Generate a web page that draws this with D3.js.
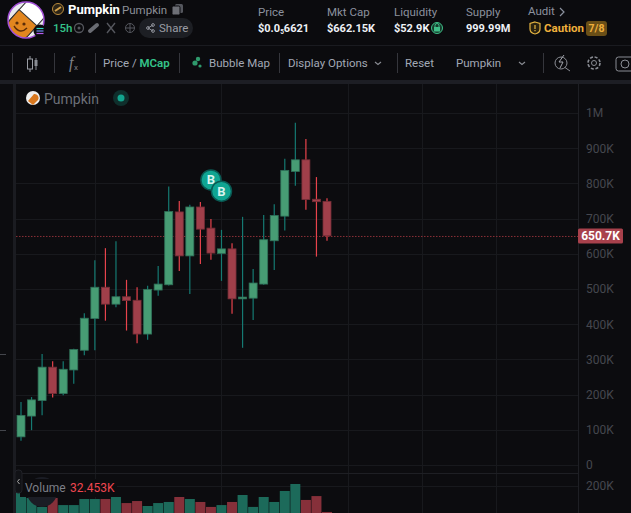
<!DOCTYPE html>
<html>
<head>
<meta charset="utf-8">
<title>Pumpkin</title>
<script src="https://cdn.jsdelivr.net/npm/d3@7/dist/d3.min.js"></script>
<style>
  html, body { margin: 0; padding: 0; background: #0c0c0f; overflow: hidden; }
  svg { display: block; font-family: Roboto, sans-serif; }
</style>
</head>
<body>
<svg id="chart" width="631" height="513"></svg>
<script>
// values in K
const opens  = [80,139,183,278,203,270,326,416,505,457,478,468,372,497,512,719,594,733,673,601,614,472,474,514,637,707,834,867,755,749];
const closes = [141,185,278,203,272,328,417,505,457,478,467,372,499,514,720,594,733,670,602,614,472,477,517,640,709,837,867,754,748,651];
const highs  = [179,193,315,295,295,330,431,582,616,636,526,505,509,565,791,750,739,747,699,668,630,705,557,710,741,870,972,926,818,758];
const lows   = [69,99,141,192,198,231,312,326,410,448,382,346,356,481,510,551,486,571,583,523,430,333,412,512,554,666,793,725,592,637];
const volumes = [155,123,65,123,77,77,116,116,116,129,90,103,71,90,97,129,116,97,65,77,97,142,65,129,97,168,213,110,135,32.453];

const priceTicks = [0,100,200,300,400,500,600,700,800,900,1000];
const volumeTicks = [200];
const timeGrid = [7,19,31,38,45]; // candle index of the vertical grid lines
const lastPrice = 650.7;
const buyMarks = [{ i: 18, v: 810 }, { i: 19, v: 778 }];

const toolbarLabels = [
    { t: 'Bubble Map', x: 209 }, { t: 'Display Options', x: 288 },
    { t: 'Reset', x: 405 }, { t: 'Pumpkin', x: 456 }
];
const stats = [
    { label: 'Mkt Cap', value: '$662.15K', x: 327 },
    { label: 'Liquidity', value: '$52.9K', x: 394 },
    { label: 'Supply', value: '999.99M', x: 466 }
];

const svg = d3.select('#chart');
const W = 631, H = 513, axisX = 578, left = 16;

const x = d3.scaleLinear().domain([0, 29]).range([21, 327]);
const y = d3.scaleLinear().domain([0, 1000]).range([465, 113]);
const yVol = d3.scaleLinear().domain([0, 200]).range([517, 486]);
const fmt = d => d === 0 ? '0' : d >= 1000 ? (d / 1000) + 'M' : d + 'K';

const up = '#479c74', upEdge = '#2f7059', upWick = '#157a72';
const down = '#a03f4a', downEdge = '#742e37', downWick = '#e8434c';

svg.append('rect').attr('width', W).attr('height', H).attr('fill', '#0c0c0f');

// ---- grid
const grid = svg.append('g');
grid.selectAll('.h').data(priceTicks).join('line')
    .attr('x1', left).attr('x2', axisX)
    .attr('y1', d => Math.round(y(d)) + 0.5).attr('y2', d => Math.round(y(d)) + 0.5)
    .attr('stroke', '#18191d');
grid.selectAll('.hv').data(volumeTicks).join('line')
    .attr('x1', left).attr('x2', axisX)
    .attr('y1', d => Math.round(yVol(d)) + 0.5).attr('y2', d => Math.round(yVol(d)) + 0.5)
    .attr('stroke', '#18191d');
grid.selectAll('.v').data(timeGrid).join('line')
    .attr('x1', d => Math.round(x(d)) + 0.5).attr('x2', d => Math.round(x(d)) + 0.5)
    .attr('y1', 84).attr('y2', H)
    .attr('stroke', '#18191d');

// pane frame
svg.append('rect').attr('x', 13).attr('y', 84).attr('width', 3).attr('height', H - 84).attr('fill', '#1b1c21');
svg.append('line').attr('x1', left).attr('x2', axisX).attr('y1', 473.5).attr('y2', 473.5).attr('stroke', '#1e1f24');
svg.append('line').attr('x1', axisX + 0.5).attr('x2', axisX + 0.5).attr('y1', 84).attr('y2', H).attr('stroke', '#1e1f24');
[354, 430].forEach(v => svg.append('line').attr('x1', 0).attr('x2', 6).attr('y1', v + 0.5).attr('y2', v + 0.5).attr('stroke', '#44464c'));

// ---- volume bars
svg.append('g').selectAll('rect').data(volumes).join('rect')
    .attr('x', (d, i) => x(i) - 5)
    .attr('width', 10)
    .attr('y', d => yVol(d))
    .attr('height', d => yVol(0) - yVol(d))
    .attr('fill', (d, i) => closes[i] >= opens[i] ? '#1c6a5a' : '#86303a');

// ---- last price line
svg.append('line')
    .attr('x1', left).attr('x2', axisX)
    .attr('y1', y(lastPrice) + 0.5).attr('y2', y(lastPrice) + 0.5)
    .attr('stroke', '#8a3038').attr('stroke-dasharray', '1.5 1.5');

// ---- candles
const candles = svg.append('g').selectAll('g').data(opens).join('g');
candles.append('line')
    .attr('x1', (d, i) => x(i)).attr('x2', (d, i) => x(i))
    .attr('y1', (d, i) => y(highs[i])).attr('y2', (d, i) => y(lows[i]))
    .attr('stroke', (d, i) => closes[i] >= opens[i] ? upWick : downWick)
    .attr('stroke-width', 1.2);
candles.append('rect')
    .attr('x', (d, i) => x(i) - 4)
    .attr('width', 8)
    .attr('y', (d, i) => y(Math.max(opens[i], closes[i])))
    .attr('height', (d, i) => Math.abs(y(opens[i]) - y(closes[i])))
    .attr('fill', (d, i) => closes[i] >= opens[i] ? up : down)
    .attr('stroke', (d, i) => closes[i] >= opens[i] ? upEdge : downEdge)
    .attr('stroke-width', 0.8);

// ---- buy marks
const marks = svg.append('g').selectAll('g').data(buyMarks).join('g')
    .attr('transform', d => `translate(${x(d.i)},${y(d.v)})`);
marks.append('circle').attr('r', 10).attr('fill', '#10a592').attr('stroke', '#0a5a54').attr('stroke-width', 1.5);
marks.append('text').text('B').attr('text-anchor', 'middle').attr('dy', 4.5)
    .attr('fill', '#d8f3ee').attr('font-size', 13).attr('font-weight', 700);

// ---- axes
const axisP = svg.append('g').attr('transform', `translate(${axisX},0)`)
    .call(d3.axisRight(y).tickValues(priceTicks).tickFormat(fmt).tickSize(0).tickPadding(8));
const axisV = svg.append('g').attr('transform', `translate(${axisX},0)`)
    .call(d3.axisRight(yVol).tickValues(volumeTicks).tickFormat(fmt).tickSize(0).tickPadding(8));
[axisP, axisV].forEach(a => {
    a.select('.domain').remove();
    a.selectAll('text').attr('fill', '#45474e').attr('font-size', 12).attr('font-family', 'Roboto, sans-serif');
});

svg.append('rect').attr('x', axisX).attr('y', y(lastPrice) - 7.5).attr('width', 45).attr('height', 15).attr('rx', 1.5).attr('fill', '#a8414c');
svg.append('text').text(fmt(lastPrice)).attr('x', axisX + 22.5).attr('y', y(lastPrice) + 4.5)
    .attr('text-anchor', 'middle').attr('fill', '#fff').attr('font-size', 12).attr('font-weight', 700);

// ---- pane legends
svg.append('circle').attr('cx', 42).attr('cy', 492).attr('r', 15).attr('fill', '#1b1d25');
svg.append('rect').attr('x', 20).attr('y', 479).attr('width', 97).attr('height', 18).attr('fill', '#0c0c0f');
svg.append('rect').attr('x', 15).attr('y', 470).attr('width', 7).attr('height', 23).attr('rx', 3).attr('fill', '#111216').attr('stroke', '#202127');
svg.append('path').attr('d', 'M19.5 479 l-2 2.5 l2 2.5').attr('fill', 'none').attr('stroke', '#aaa').attr('stroke-width', 1);
svg.append('text').text('Volume').attr('x', 25).attr('y', 492).attr('fill', '#7c7f87').attr('font-size', 12);
svg.append('text').text('32.453K').attr('x', 70).attr('y', 492).attr('fill', '#ef4650').attr('font-size', 12);

svg.append('circle').attr('cx', 33).attr('cy', 98).attr('r', 7).attr('fill', '#eee');
svg.append('path').attr('d', 'M28 101 L34 94 A4 4 0 0 1 38 100 L33 105 Z').attr('fill', '#d9781f');
svg.append('text').text('Pumpkin').attr('x', 44).attr('y', 104).attr('fill', '#6d7078').attr('font-size', 14);
svg.append('circle').attr('cx', 121).attr('cy', 98).attr('r', 8).attr('fill', '#0f2f2c');
svg.append('circle').attr('cx', 121).attr('cy', 98).attr('r', 3.5).attr('fill', '#12a58e');

// ---- header
svg.append('rect').attr('y', 0).attr('width', W).attr('height', 80).attr('fill', '#0b0b0e');
svg.append('line').attr('x1', 0).attr('x2', W).attr('y1', 45.5).attr('y2', 45.5).attr('stroke', '#1a1b20');
svg.append('rect').attr('y', 80).attr('width', W).attr('height', 4).attr('fill', '#1d1e24');

// logo
svg.append('clipPath').attr('id', 'logoClip').append('circle').attr('cx', 26).attr('cy', 20).attr('r', 18);
svg.append('circle').attr('cx', 26).attr('cy', 20).attr('r', 18).attr('fill', '#e9e9ee');
svg.append('g').attr('clip-path', 'url(#logoClip)').append('g').attr('transform', 'rotate(42 26 20)').call(g => {
    g.append('rect').attr('x', 14).attr('y', -4).attr('width', 24).attr('height', 46).attr('rx', 12).attr('fill', '#fff').attr('stroke', '#333').attr('stroke-width', 1);
    g.append('path').attr('d', 'M14 17 H38 V30 A12 12 0 0 1 14 30 Z').attr('fill', '#e2861f').attr('stroke', '#333').attr('stroke-width', 1);
});
svg.append('circle').attr('cx', 26).attr('cy', 20).attr('r', 18).attr('fill', 'none').attr('stroke', '#a24fd6').attr('stroke-width', 1.5);
svg.append('circle').attr('cx', 17).attr('cy', 23).attr('r', 1.6).attr('fill', '#5a2c08');
svg.append('circle').attr('cx', 24).attr('cy', 24).attr('r', 1.6).attr('fill', '#5a2c08');
svg.append('path').attr('d', 'M14 26 Q20 35 27 28').attr('fill', 'none').attr('stroke', '#5a2c08').attr('stroke-width', 1.4);
svg.append('circle').attr('cx', 40).attr('cy', 31).attr('r', 6.5).attr('fill', '#0b0b0e');
[28.5, 31, 33.5].forEach((v, i) => svg.append('line').attr('x1', 36.5).attr('x2', 43.5).attr('y1', v).attr('y2', v)
    .attr('stroke', ['#35d6c0', '#6c8cf0', '#b65cf0'][i]).attr('stroke-width', 1.2));

// title row
svg.append('circle').attr('cx', 58).attr('cy', 9).attr('r', 5.5).attr('fill', '#2b2417').attr('stroke', '#b98a3c');
svg.append('path').attr('d', 'M55 11 L61 7').attr('stroke', '#d3a14a').attr('stroke-width', 2);
svg.append('text').text('Pumpkin').attr('x', 68).attr('y', 14).attr('fill', '#fff').attr('font-size', 13).attr('font-weight', 700);
svg.append('text').text('Pumpkin').attr('x', 122).attr('y', 14).attr('fill', '#8d9098').attr('font-size', 11.5);
svg.append('rect').attr('x', 175).attr('y', 4).attr('width', 8).attr('height', 9).attr('rx', 1.5).attr('fill', '#55575e');
svg.append('rect').attr('x', 172).attr('y', 6).attr('width', 8).attr('height', 9).attr('rx', 1.5).attr('fill', '#6d6f76').attr('stroke', '#0b0b0e');

svg.append('text').text('15h').attr('x', 53).attr('y', 32).attr('fill', '#35c48a').attr('font-size', 11.5).attr('font-weight', 500);
svg.append('circle').attr('cx', 79).attr('cy', 28).attr('r', 4.5).attr('fill', 'none').attr('stroke', '#55575e').attr('stroke-width', 1.3);
svg.append('circle').attr('cx', 79).attr('cy', 28).attr('r', 1.5).attr('fill', '#55575e');
svg.append('path').attr('d', 'M90 31 L97 25').attr('stroke', '#6a6c73').attr('stroke-width', 4).attr('stroke-linecap', 'round');
svg.append('path').attr('d', 'M107 23 L115 33 M115 23 L107 33').attr('stroke', '#55575e').attr('stroke-width', 1.4);
svg.append('circle').attr('cx', 130).attr('cy', 28).attr('r', 4.5).attr('fill', 'none').attr('stroke', '#55575e');
svg.append('path').attr('d', 'M125.5 28 H134.5 M130 23.5 V32.5').attr('stroke', '#55575e');
svg.append('rect').attr('x', 139).attr('y', 18).attr('width', 54).attr('height', 20).attr('rx', 10).attr('fill', '#1d1f24');
svg.append('path').attr('d', 'M153 25 L148 28 L153 31').attr('fill', 'none').attr('stroke', '#8d9098');
[[153, 25], [148, 28], [153, 31]].forEach(p => svg.append('circle').attr('cx', p[0]).attr('cy', p[1]).attr('r', 1.4).attr('fill', 'none').attr('stroke', '#8d9098'));
svg.append('text').text('Share').attr('x', 159).attr('y', 32).attr('fill', '#9a9da4').attr('font-size', 11.5);

// stats
svg.append('text').text('Price').attr('x', 258).attr('y', 16).attr('fill', '#8b919e').attr('font-size', 11.5);
svg.append('text').attr('x', 258).attr('y', 32).attr('fill', '#eef1f6').attr('font-size', 11).attr('font-weight', 700)
    .call(t => {
        t.append('tspan').text('$0.0');
        t.append('tspan').text('5').attr('font-size', 6.5).attr('dy', 2);
        t.append('tspan').text('6621').attr('dy', -2);
    });
svg.append('g').selectAll('text').data(stats).join('text')
    .text(d => d.label).attr('x', d => d.x).attr('y', 16).attr('fill', '#8b919e').attr('font-size', 11.5);
svg.append('g').selectAll('text').data(stats).join('text')
    .text(d => d.value).attr('x', d => d.x).attr('y', 32).attr('fill', '#eef1f6').attr('font-size', 11).attr('font-weight', 700);
svg.append('circle').attr('cx', 437).attr('cy', 28).attr('r', 5.5).attr('fill', '#163a2c').attr('stroke', '#3fbf88');
svg.append('rect').attr('x', 434).attr('y', 27).attr('width', 6).attr('height', 4.5).attr('fill', '#3fbf88');
svg.append('path').attr('d', 'M435 27 V25.5 A2 2 0 0 1 439 25.5 V27').attr('fill', 'none').attr('stroke', '#3fbf88');

svg.append('text').text('Audit').attr('x', 528).attr('y', 15).attr('fill', '#8b919e').attr('font-size', 11.5);
svg.append('path').attr('d', 'M560 8 l4 4 l-4 4').attr('fill', 'none').attr('stroke', '#8b919e').attr('stroke-width', 1.2);
svg.append('path').attr('d', 'M535 22 L540 23.5 V29 Q540 33 535 34 Q530 33 530 29 V23.5 Z').attr('fill', '#2a2210').attr('stroke', '#e3b341').attr('stroke-width', 1.2);
svg.append('rect').attr('x', 534.4).attr('y', 25).attr('width', 1.2).attr('height', 4).attr('fill', '#e3b341');
svg.append('rect').attr('x', 534.4).attr('y', 30).attr('width', 1.2).attr('height', 1.2).attr('fill', '#e3b341');
svg.append('text').text('Caution').attr('x', 544).attr('y', 32).attr('fill', '#f0b03c').attr('font-size', 11.5).attr('font-weight', 700);
svg.append('rect').attr('x', 586).attr('y', 21).attr('width', 21).attr('height', 15).attr('rx', 3).attr('fill', '#6a4f17');
svg.append('text').text('7/8').attr('x', 596.5).attr('y', 32).attr('text-anchor', 'middle').attr('fill', '#f0b03c').attr('font-size', 10.5).attr('font-weight', 700);

// ---- toolbar
[12, 54, 95, 179, 279, 397, 543].forEach(v => svg.append('line').attr('x1', v + 0.5).attr('x2', v + 0.5).attr('y1', 53).attr('y2', 73).attr('stroke', '#35363c'));
svg.append('path').attr('d', 'M30 56 V72').attr('stroke', '#9a9da4');
svg.append('rect').attr('x', 27.5).attr('y', 59).attr('width', 5).attr('height', 10).attr('fill', '#0b0b0e').attr('stroke', '#9a9da4');
svg.append('path').attr('d', 'M36 58 V70').attr('stroke', '#8a8d94');
svg.append('rect').attr('x', 34.5).attr('y', 60).attr('width', 3).attr('height', 6).attr('fill', '#8a8d94');
svg.append('text').text('f').attr('x', 69).attr('y', 68).attr('fill', '#7f8289').attr('font-size', 16).attr('font-style', 'italic').attr('font-family', 'Liberation Serif');
svg.append('text').text('x').attr('x', 74).attr('y', 70).attr('fill', '#7f8289').attr('font-size', 8);
svg.append('text').attr('x', 103).attr('y', 67).attr('font-size', 11.5).call(t => {
    t.append('tspan').text('Price / ').attr('fill', '#a2a8b5');
    t.append('tspan').text('MCap').attr('fill', '#35c48a').attr('font-weight', 600);
});
[[198, 59, 2.2], [195, 63, 2.6], [200, 66, 1.6]].forEach(p => svg.append('circle').attr('cx', p[0]).attr('cy', p[1]).attr('r', p[2]).attr('fill', '#2f9a6c'));
svg.append('g').selectAll('text').data(toolbarLabels).join('text')
    .text(d => d.t).attr('x', d => d.x).attr('y', 67).attr('fill', '#a2a8b5').attr('font-size', 11.5);
[378, 522].forEach(v => svg.append('path').attr('d', `M${v - 3} 62 l3 2.5 l3 -2.5`).attr('fill', 'none').attr('stroke', '#8a8d94').attr('stroke-width', 1.1));

svg.append('circle').attr('cx', 561).attr('cy', 63).attr('r', 6).attr('fill', 'none').attr('stroke', '#8a8d94');
svg.append('path').attr('d', 'M565 67.5 L570 71').attr('stroke', '#8a8d94');
svg.append('path').attr('d', 'M564 55 L559 62 H563 L560 68').attr('fill', 'none').attr('stroke', '#a2a5ac');
svg.append('circle').attr('cx', 594).attr('cy', 63).attr('r', 2.5).attr('fill', 'none').attr('stroke', '#8a8d94');
svg.append('circle').attr('cx', 594).attr('cy', 63).attr('r', 6).attr('fill', 'none').attr('stroke', '#8a8d94').attr('stroke-width', 1.6).attr('stroke-dasharray', '3 1.7');
svg.append('rect').attr('x', 616).attr('y', 57).attr('width', 20).attr('height', 14).attr('rx', 2.5).attr('fill', 'none').attr('stroke', '#8a8d94');
svg.append('circle').attr('cx', 625).attr('cy', 64).attr('r', 4).attr('fill', 'none').attr('stroke', '#8a8d94');
</script>
</body>
</html>
